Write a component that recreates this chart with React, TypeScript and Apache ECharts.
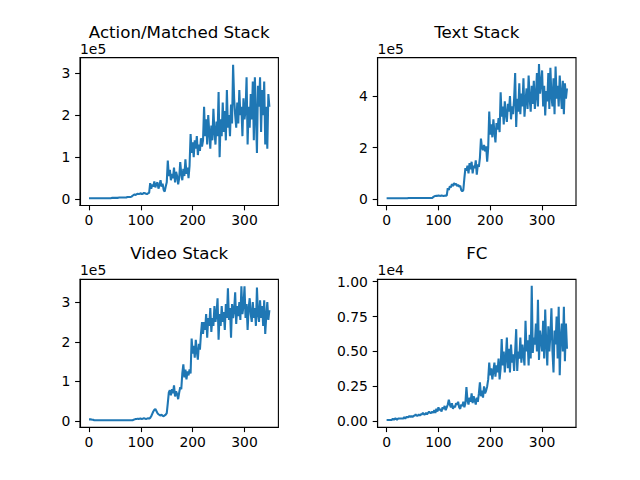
import React, { useEffect, useRef } from "react";
import * as echarts from "echarts";

// x positions: every 2nd step from 0 to 348
const X_STEP = 2;

// Action/Matched Stack, units of 1e5
const actionStack = [
  0.02, 0.02, 0.02, 0.02, 0.02, 0.02, 0.02, 0.02, 0.02, 0.02, 0.02, 0.02, 0.02, 0.02, 0.02, 0.02, 0.02, 0.02, 0.02, 0.02, 0.02,
  0.02, 0.03, 0.03, 0.03, 0.03, 0.03, 0.03, 0.03, 0.04, 0.04, 0.04, 0.04, 0.04, 0.04, 0.04, 0.04, 0.05, 0.05, 0.05, 0.05,
  0.06, 0.08, 0.1, 0.11, 0.1, 0.12, 0.13, 0.12, 0.13, 0.14, 0.12, 0.13, 0.15, 0.14, 0.13, 0.12, 0.14, 0.15,
  0.38, 0.25, 0.35, 0.3, 0.42, 0.28, 0.36, 0.4, 0.25, 0.33, 0.45, 0.3, 0.37, 0.22, 0.18, 0.3, 0.4,
  0.92, 0.55, 0.7, 0.45, 0.6, 0.5, 0.75, 0.4, 0.65, 0.55, 0.35, 0.5, 0.88, 0.6, 0.45, 0.72, 0.55, 0.95, 0.6, 0.75, 0.5, 0.8,
  1.55, 1.1, 1.35, 1.0, 1.4, 1.2, 1.5, 1.05, 1.3, 1.15, 1.45, 1.25, 1.4,
  2.2, 1.5, 1.9, 1.3, 2.0, 1.6, 1.2, 1.75, 1.4, 2.15, 1.6, 1.3, 1.85, 1.5, 2.55,
  1.0, 1.9, 1.5, 2.3, 1.6, 2.1, 1.4, 2.6, 1.7, 2.0, 1.5, 2.25, 1.8, 3.2, 2.4,
  2.0, 1.7, 2.3, 1.8, 2.6, 2.0, 2.2, 1.5, 2.4, 1.9, 2.1, 2.9, 1.3, 2.2, 1.7,
  2.5, 1.9, 2.8, 1.4, 2.9, 2.0, 1.1, 2.7, 2.2, 2.9, 1.6, 2.6, 2.0, 2.8, 1.3, 2.2, 1.2, 2.5, 2.2,
];

// Text Stack, units of 1e5
const textStack = [
  0.03, 0.03, 0.03, 0.03, 0.03, 0.03, 0.03, 0.03, 0.03, 0.03, 0.03, 0.03, 0.03, 0.03, 0.03, 0.03, 0.03, 0.03, 0.03, 0.03, 0.03,
  0.04, 0.04, 0.04, 0.04, 0.04, 0.04, 0.04, 0.04, 0.04, 0.04, 0.04, 0.04, 0.04, 0.04, 0.04, 0.04, 0.04, 0.04, 0.04, 0.04, 0.04, 0.04, 0.04, 0.04,
  0.08, 0.1, 0.12, 0.13, 0.12, 0.14, 0.13, 0.12, 0.14, 0.13, 0.12, 0.13, 0.14, 0.13,
  0.42, 0.35, 0.5, 0.45, 0.58, 0.5, 0.62, 0.55, 0.6, 0.5, 0.56, 0.48, 0.52, 0.35, 0.3,
  0.35, 0.8, 1.2, 1.1, 1.3, 1.0, 1.4, 1.15, 1.45, 1.0, 1.3, 1.2, 1.5, 0.95, 1.35, 1.25,
  1.6, 2.35, 2.0, 1.9, 2.1, 1.85, 2.05, 1.45, 2.0,
  3.4, 2.5, 2.9, 2.4, 3.1, 2.6, 2.2, 2.95, 2.7, 3.15, 2.6,
  4.15, 3.2, 3.6, 2.9, 3.8, 3.3, 3.0, 3.7, 3.4, 4.0, 3.1, 3.6, 3.3, 3.9, 4.9,
  2.8, 3.9, 3.4, 4.5, 3.3, 4.1, 3.6, 4.7, 3.2, 3.8, 4.3, 3.5, 4.8, 3.9, 3.4, 4.4, 3.7, 4.6, 3.5, 4.0, 4.9, 3.6, 5.25, 4.1, 4.5,
  5.0, 3.6, 4.4, 3.25, 4.2, 3.8, 4.9, 3.5, 5.1, 4.0, 3.6, 4.7, 3.3, 5.15, 3.9, 4.4, 3.6, 4.8, 4.1, 3.5, 4.6, 3.3, 4.5, 3.9, 4.3,
];

// Video Stack, units of 1e5
const videoStack = [
  0.04, 0.04, 0.04, 0.03, 0.03, 0.02, 0.02, 0.02, 0.02, 0.02, 0.02, 0.02, 0.02, 0.02, 0.02, 0.02, 0.02, 0.02, 0.02, 0.02, 0.02, 0.02,
  0.02, 0.02, 0.02, 0.02, 0.02, 0.02, 0.02, 0.02, 0.02, 0.02, 0.02, 0.02, 0.02, 0.02, 0.02, 0.02, 0.02, 0.02, 0.02, 0.02, 0.02,
  0.03, 0.04, 0.05, 0.05, 0.06, 0.05, 0.06, 0.06, 0.05, 0.06, 0.07, 0.06, 0.05, 0.06, 0.07, 0.06, 0.08,
  0.12, 0.18, 0.24, 0.28, 0.3, 0.25, 0.2, 0.17, 0.15, 0.14, 0.16, 0.13, 0.12, 0.14, 0.16, 0.2,
  0.45, 0.72, 0.78, 0.65, 0.8, 0.7, 0.9, 0.62, 0.75, 0.68, 0.55, 0.72, 0.85, 0.8, 1.2,
  1.43, 1.1, 1.3, 1.05, 1.25, 1.15, 1.3, 1.2,
  2.08, 1.7, 1.9, 1.6, 2.05, 1.75, 1.55, 1.95, 1.8, 2.2, 2.5,
  2.2, 2.5, 2.3, 2.7, 2.1, 2.6, 2.4, 2.85, 2.25, 2.6, 2.4, 2.9, 2.5, 2.7, 3.1,
  2.05, 2.7, 2.4, 2.9, 2.5, 2.75, 2.3, 2.95, 2.6, 3.35, 2.55, 2.85, 2.1, 2.95, 2.6, 2.8, 3.25, 2.45, 2.9, 2.65, 3.0, 2.55, 3.4, 2.7, 2.9,
  3.4, 2.6, 2.95, 2.3, 2.85, 3.1, 2.7, 2.5, 3.0, 2.6, 2.85, 2.4, 3.37, 2.7, 2.5, 3.05, 2.6, 2.9, 2.4, 3.05, 2.2, 2.65, 3.0, 2.55, 2.8,
];

// FC, units of 1e4
const fcValues = [
  0.01, 0.01, 0.01, 0.01, 0.01, 0.01, 0.02, 0.01, 0.02, 0.02, 0.01, 0.02, 0.02, 0.02, 0.02, 0.02,
  0.02, 0.03, 0.02, 0.03, 0.03, 0.03, 0.04, 0.03, 0.04, 0.03, 0.04, 0.04, 0.05, 0.04, 0.04, 0.05, 0.04, 0.05, 0.05, 0.06,
  0.05, 0.05, 0.06, 0.05, 0.06, 0.07, 0.06, 0.06, 0.07, 0.06,
  0.08, 0.06, 0.09, 0.07, 0.1, 0.08, 0.09, 0.07, 0.1, 0.09, 0.11, 0.08, 0.1, 0.12,
  0.155, 0.12, 0.1, 0.13, 0.09, 0.11, 0.1, 0.13, 0.12, 0.14, 0.1, 0.09, 0.12, 0.11, 0.14, 0.1, 0.13,
  0.245, 0.15, 0.12, 0.17, 0.14, 0.2, 0.13, 0.18, 0.15, 0.12, 0.17, 0.14, 0.2, 0.28, 0.18, 0.22, 0.17, 0.25, 0.2, 0.22, 0.25,
  0.3, 0.42, 0.33, 0.38, 0.3, 0.36, 0.42, 0.32, 0.4, 0.35, 0.45, 0.3, 0.38,
  0.59, 0.4, 0.5, 0.35, 0.45, 0.6, 0.38, 0.52, 0.35, 0.55, 0.42, 0.48, 0.36, 0.5, 0.66,
  0.36, 0.5, 0.45, 0.6, 0.42, 0.55, 0.48, 0.4, 0.72, 0.5, 0.58, 0.4, 0.62, 0.45, 0.97,
  0.49, 0.6, 0.55, 0.7, 0.5, 0.87, 0.44, 0.65, 0.58, 0.5, 0.72, 0.45, 0.8, 0.55, 0.4, 0.68, 0.5, 0.62,
  0.81, 0.5, 0.35, 0.65, 0.55, 0.75, 0.45, 0.82, 0.33, 0.6, 0.7, 0.5, 0.82, 0.43, 0.7, 0.52,
];

const titles = ["Action/Matched Stack", "Text Stack", "Video Stack", "FC"];
const offsetLabels = ["1e5", "1e5", "1e5", "1e4"];
const xTicks = [0, 100, 200, 300];
const yTicks = [
  [0, 1, 2, 3],
  [0, 2, 4],
  [0, 1, 2, 3],
  [0, 0.25, 0.5, 0.75, 1.0],
];
const yLimits = [
  [-0.15, 3.37],
  [-0.25, 5.5],
  [-0.157, 3.576],
  [-0.042, 1.0165],
];
const yDecimals = [0, 0, 0, 2];
const seriesValues = [actionStack, textStack, videoStack, fcValues];

const FONT = "DejaVu Sans";
const LINE_COLOR = "#1f77b4";

export default function App() {
  const ref = useRef<HTMLDivElement>(null);

  useEffect(() => {
    document.body.style.margin = "0";
    if (!ref.current) return;
    const chart = echarts.init(ref.current, undefined, { renderer: "svg" });

    const lefts = [80, 377.6, 80, 377.6];
    const tops = [57.6, 57.6, 279.36, 279.36];
    const W = 198.4;
    const H = 147.84;

    const grids = lefts.map((l, i) => ({
      left: l,
      top: tops[i],
      width: W,
      height: H,
      show: true,
      borderColor: "#000",
      borderWidth: 1.1,
      backgroundColor: "#fff",
      containLabel: false,
    }));

    const labelStyle = { color: "#000", fontFamily: FONT, fontSize: 13.9 };

    const xAxes = lefts.map((_, i) => ({
      type: "value",
      gridIndex: i,
      min: -17.4,
      max: 365.4,
      splitLine: { show: false },
      axisLine: { show: true, onZero: false, lineStyle: { color: "#000", width: 1.1 } },
      axisTick: {
        show: true,
        inside: false,
        length: 4.9,
        customValues: xTicks,
        lineStyle: { color: "#000", width: 1.1 },
      },
      axisLabel: {
        show: true,
        margin: 8,
        customValues: xTicks,
        formatter: (v: number) => String(v),
        ...labelStyle,
      },
    }));

    const yAxes = lefts.map((_, i) => ({
      type: "value",
      gridIndex: i,
      min: yLimits[i][0],
      max: yLimits[i][1],
      splitLine: { show: false },
      axisLine: { show: true, onZero: false, lineStyle: { color: "#000", width: 1.1 } },
      axisTick: {
        show: true,
        inside: false,
        length: 4.9,
        customValues: yTicks[i],
        lineStyle: { color: "#000", width: 1.1 },
      },
      axisLabel: {
        show: true,
        margin: 9.7,
        customValues: yTicks[i],
        formatter: (v: number) => v.toFixed(yDecimals[i]),
        ...labelStyle,
      },
    }));

    const series = seriesValues.map((vals, i) => ({
      type: "line",
      xAxisIndex: i,
      yAxisIndex: i,
      data: vals.map((v, k) => [k * X_STEP, v]),
      showSymbol: false,
      symbol: "none",
      lineStyle: { color: LINE_COLOR, width: 2.08 },
      itemStyle: { color: LINE_COLOR },
      clip: true,
    }));

    const graphics: any[] = [];
    lefts.forEach((l, i) => {
      graphics.push({
        type: "text",
        x: l + W / 2,
        y: tops[i] - 25.4,
        style: {
          text: titles[i],
          fill: "#000",
          font: `16.67px "${FONT}"`,
          align: "center",
          verticalAlign: "middle",
          textAlign: "center",
          textVerticalAlign: "middle",
        },
      });
      graphics.push({
        type: "text",
        x: l,
        y: tops[i] - 9.1,
        style: {
          text: offsetLabels[i],
          fill: "#000",
          font: `13.9px "${FONT}"`,
          align: "left",
          verticalAlign: "middle",
          textAlign: "left",
          textVerticalAlign: "middle",
        },
      });
    });

    chart.setOption({
      animation: false,
      backgroundColor: "#fff",
      grid: grids,
      xAxis: xAxes,
      yAxis: yAxes,
      series,
      graphic: graphics,
    } as any);

    return () => chart.dispose();
  }, []);

  return <div ref={ref} style={{ width: 640, height: 480 }} />;
}
